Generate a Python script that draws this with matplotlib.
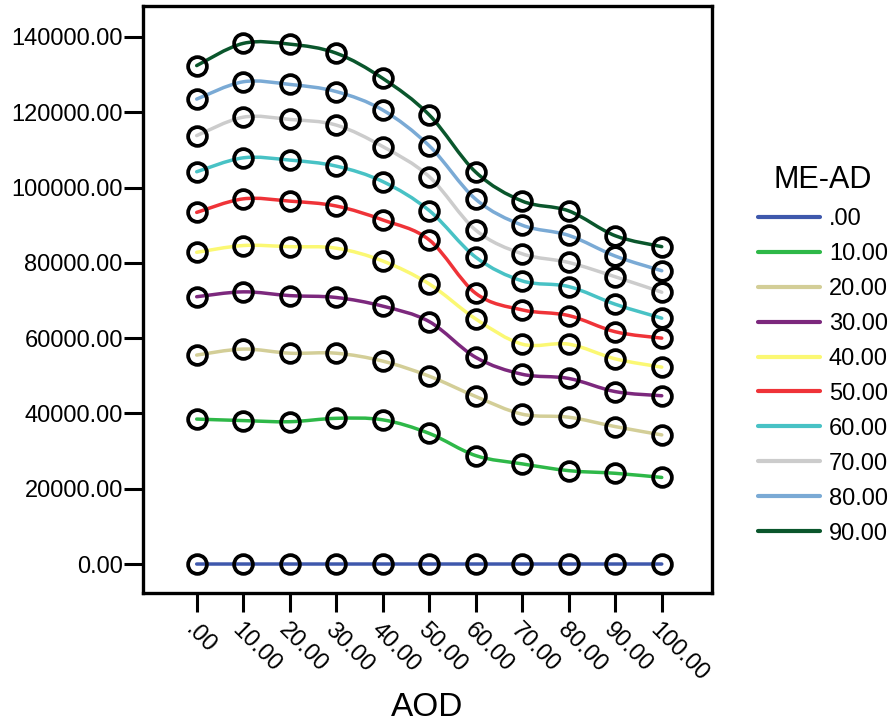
import matplotlib
matplotlib.use("Agg")
import matplotlib.pyplot as plt
from matplotlib.path import Path
from matplotlib.patches import PathPatch
from matplotlib.lines import Line2D
import numpy as np

plt.rcParams['font.family'] = ['Liberation Sans', 'DejaVu Sans']

# AOD categories (x axis)
aod_labels = [".00", "10.00", "20.00", "30.00", "40.00", "50.00",
              "60.00", "70.00", "80.00", "90.00", "100.00"]

# ME-AD series (legend)
me_ad_labels = [".00", "10.00", "20.00", "30.00", "40.00",
                "50.00", "60.00", "70.00", "80.00", "90.00"]

me_00 = [0, 0, 0, 0, 0, 0, 0, 0, 0, 0, 0]
me_10 = [38500, 38100, 37800, 38700, 38300, 34700, 28800, 26600, 24800, 24100, 23000]
me_20 = [55500, 57100, 56000, 56000, 53900, 49900, 44500, 39800, 39000, 36500, 34300]
me_30 = [71000, 72300, 71300, 70800, 68500, 64400, 54900, 50400, 49300, 45800, 44700]
me_40 = [82800, 84600, 84300, 83900, 80500, 74400, 65100, 58400, 58400, 54500, 52300]
me_50 = [93400, 97000, 96400, 95100, 91400, 86100, 71900, 67500, 66000, 61700, 60000]
me_60 = [104200, 107900, 107300, 105700, 101600, 93900, 81500, 75200, 73700, 69000, 65300]
me_70 = [113800, 118700, 118100, 116600, 110900, 102900, 88700, 82400, 80100, 76300, 72200]
me_80 = [123500, 128100, 127400, 125500, 120600, 111100, 96900, 90000, 87300, 81800, 77900]
me_90 = [132400, 138300, 138100, 135700, 129000, 119300, 104100, 96400, 93800, 87200, 84300]

series = [me_00, me_10, me_20, me_30, me_40, me_50, me_60, me_70, me_80, me_90]
colors = ["#3e58ac", "#2eb848", "#d3ce97", "#7c287d", "#fbf873",
          "#ef3338", "#48c2c5", "#cccccc", "#7aaad5", "#0a562c"]


def smooth_path(xs, ys):
    # Catmull-Rom curve through the points, as cubic bezier segments
    pts = np.column_stack([xs, ys]).astype(float)
    n = len(pts)
    verts = [pts[0]]
    codes = [Path.MOVETO]
    for i in range(n - 1):
        p0 = pts[max(i - 1, 0)]
        p1 = pts[i]
        p2 = pts[i + 1]
        p3 = pts[min(i + 2, n - 1)]
        c1 = p1 + (p2 - p0) / 6.0
        c2 = p2 - (p3 - p1) / 6.0
        verts += [c1, c2, p2]
        codes += [Path.CURVE4] * 3
    return Path(verts, codes)


fig = plt.figure(figsize=(8.93, 7.23), dpi=100)
ax = fig.add_axes([0.1601, 0.1798, 0.6372, 0.8119])

x = np.arange(len(aod_labels))
for vals, col in zip(series, colors):
    ax.add_patch(PathPatch(smooth_path(x, vals), fill=False,
                           edgecolor=col, lw=2.5, zorder=2,
                           capstyle='round'))
for vals in series:
    ax.plot(x, vals, linestyle='none', marker='o', ms=13.5,
            mfc='none', mec='black', mew=2.7, zorder=3)

ax.set_xlim(-1.155, 11.08)
ax.set_ylim(-7700, 148230)

ax.set_yticks(np.arange(0, 140001, 20000))
ax.set_yticklabels([f"{v:.2f}" for v in np.arange(0, 140001, 20000)])
ax.set_xticks(x)
ax.set_xticklabels(aod_labels, rotation=-45, ha='left', va='top',
                   rotation_mode='anchor')

ax.tick_params(axis='both', length=14, width=2.2, color='black',
               labelsize=17)
ax.tick_params(axis='y', pad=0.5)
ax.tick_params(axis='x', pad=5)
for sp in ax.spines.values():
    sp.set_linewidth(2.4)
    sp.set_color('black')

ax.set_xlabel("AOD", fontsize=24, labelpad=4)

handles = [Line2D([], [], color=c, lw=3, solid_capstyle='round') for c in colors]
leg = fig.legend(handles, me_ad_labels, title="ME-AD",
                 loc='upper left', bbox_to_anchor=(0.849, 0.772),
                 frameon=False, fontsize=17, title_fontsize=22,
                 handlelength=2.6, handletextpad=0.4, labelspacing=0.55,
                 borderaxespad=0, borderpad=0)

fig.savefig("out.png", dpi=100)
